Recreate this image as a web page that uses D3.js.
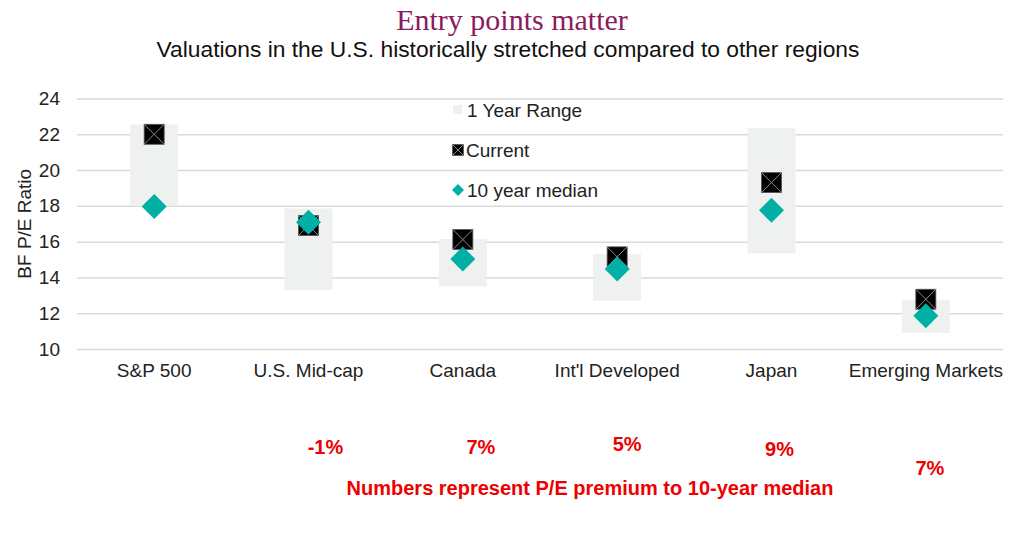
<!DOCTYPE html>
<html lang="en">
<head>
<meta charset="utf-8">
<title>Entry points matter</title>
<script src="https://d3js.org/d3.v7.min.js"></script>
<style>
    body { margin: 0; padding: 0; overflow: hidden; background: #fff; }
    text { font-family: "Liberation Sans", Arial, sans-serif; }
</style>
</head>
<body>
<svg id="chart"></svg>
<script>
    // values
    const categories = ["S&P 500", "U.S. Mid-cap", "Canada", "Int'l Developed", "Japan", "Emerging Markets"];
    const rangeLow   = [18.0, 13.3, 13.5, 12.7, 15.35, 10.9];
    const rangeHigh  = [22.55, 17.85, 16.15, 15.3, 22.35, 12.75];
    const current    = [22.0, 16.9, 16.12, 15.15, 19.3, 12.78];
    const median10   = [17.96, 17.08, 15.03, 14.47, 17.75, 11.86];
    const premium    = ["", "-1%", "7%", "5%", "9%", "7%"];
    const yTicks     = [10, 12, 14, 16, 18, 20, 22, 24];

    // hand-placed annotation nudges (layout only)
    const premiumNudge = [[0, 0], [17, 0], [18, 0], [10, -3], [8, 2], [4, 21]];

    const width = 1024, height = 542;
    const margin = { top: 98.5, right: 21, bottom: 193, left: 77 };

    const svg = d3.select("#chart")
        .attr("width", width)
        .attr("height", height);

    const x = d3.scaleBand()
        .domain(categories)
        .range([margin.left, width - margin.right]);

    const y = d3.scaleLinear()
        .domain([10, 24])
        .range([height - margin.bottom, margin.top]);

    // titles
    svg.append("text")
        .attr("x", 512).attr("y", 30)
        .attr("text-anchor", "middle")
        .style("font-family", "'Liberation Serif', 'Times New Roman', serif")
        .style("font-size", "30px")
        .attr("fill", "#8b1b5e")
        .text("Entry points matter");

    svg.append("text")
        .attr("x", 508).attr("y", 57)
        .attr("text-anchor", "middle")
        .style("font-size", "22.8px")
        .attr("fill", "#111")
        .text("Valuations in the U.S. historically stretched compared to other regions");

    // gridlines + y labels
    const yAxis = svg.append("g")
        .attr("transform", `translate(${margin.left},0)`)
        .call(d3.axisLeft(y).tickValues(yTicks).tickSize(-(width - margin.left - margin.right)).tickPadding(17));
    yAxis.select(".domain").remove();
    yAxis.selectAll(".tick line").attr("stroke", "#d9d9d9").attr("stroke-width", 1.5);
    yAxis.selectAll(".tick text")
        .style("font-size", "19px")
        .style("font-family", "'Liberation Sans', Arial, sans-serif")
        .attr("fill", "#222");

    svg.append("text")
        .attr("transform", `translate(31,${(y(10) + y(24)) / 2}) rotate(-90)`)
        .attr("text-anchor", "middle")
        .style("font-size", "19px")
        .attr("fill", "#222")
        .text("BF P/E Ratio");

    // x labels
    const xAxis = svg.append("g")
        .attr("transform", `translate(0,${y(10)})`)
        .call(d3.axisBottom(x).tickSize(0).tickPadding(15));
    xAxis.select(".domain").remove();
    xAxis.selectAll(".tick text")
        .style("font-size", "19px")
        .style("font-family", "'Liberation Sans', Arial, sans-serif")
        .attr("fill", "#222");

    const idx = d3.range(categories.length);
    const barW = 48;
    const cx = i => x(categories[i]) + x.bandwidth() / 2;

    // 1 year range
    svg.append("g").selectAll("rect")
        .data(idx)
        .join("rect")
        .attr("x", i => cx(i) - barW / 2)
        .attr("width", barW)
        .attr("y", i => y(rangeHigh[i]))
        .attr("height", i => y(rangeLow[i]) - y(rangeHigh[i]))
        .attr("fill", "#eff0f0");

    // current marker: black square with a cross
    function crossSquare(g, s) {
        g.append("rect")
            .attr("x", -s / 2).attr("y", -s / 2)
            .attr("width", s).attr("height", s)
            .attr("fill", "#000")
            .attr("stroke", "#555").attr("stroke-width", 0.8);
        g.append("path")
            .attr("d", `M${-s / 2},${-s / 2}L${s / 2},${s / 2}M${s / 2},${-s / 2}L${-s / 2},${s / 2}`)
            .attr("stroke", "#8a8a8a").attr("stroke-width", 1);
    }

    svg.append("g").selectAll("g")
        .data(idx)
        .join("g")
        .attr("transform", i => `translate(${cx(i)},${y(current[i])})`)
        .each(function () { crossSquare(d3.select(this), 20); });

    // 10 year median diamonds
    const diamond = r => `M0,${-r}L${r},0L0,${r}L${-r},0Z`;
    svg.append("g").selectAll("path")
        .data(idx)
        .join("path")
        .attr("transform", i => `translate(${cx(i)},${y(median10[i])})`)
        .attr("d", diamond(12.5))
        .attr("fill", "#00b0a4");

    // legend
    const lg = svg.append("g").attr("transform", "translate(453,0)");
    lg.append("rect").attr("x", 0).attr("y", 105).attr("width", 9).attr("height", 9).attr("fill", "#eff0f0");
    lg.append("text").attr("x", 14).attr("y", 117).style("font-size", "19px").attr("fill", "#222").text("1 Year Range");
    const lc = lg.append("g").attr("transform", "translate(5,150)");
    crossSquare(lc, 11);
    lg.append("text").attr("x", 13).attr("y", 157).style("font-size", "19px").attr("fill", "#222").text("Current");
    lg.append("path").attr("transform", "translate(5,190)").attr("d", diamond(6)).attr("fill", "#00b0a4");
    lg.append("text").attr("x", 14).attr("y", 197).style("font-size", "19px").attr("fill", "#222").text("10 year median");

    // premium annotations
    svg.append("g").selectAll("text")
        .data(idx.filter(i => premium[i] !== ""))
        .join("text")
        .attr("x", i => cx(i) + premiumNudge[i][0])
        .attr("y", i => 454 + premiumNudge[i][1])
        .attr("text-anchor", "middle")
        .style("font-size", "20px")
        .style("font-weight", "bold")
        .attr("fill", "#ee0000")
        .text(i => premium[i]);

    svg.append("text")
        .attr("x", 590).attr("y", 495)
        .attr("text-anchor", "middle")
        .style("font-size", "20px")
        .style("font-weight", "bold")
        .attr("fill", "#ee0000")
        .text("Numbers represent P/E premium to 10-year median");
</script>
</body>
</html>
